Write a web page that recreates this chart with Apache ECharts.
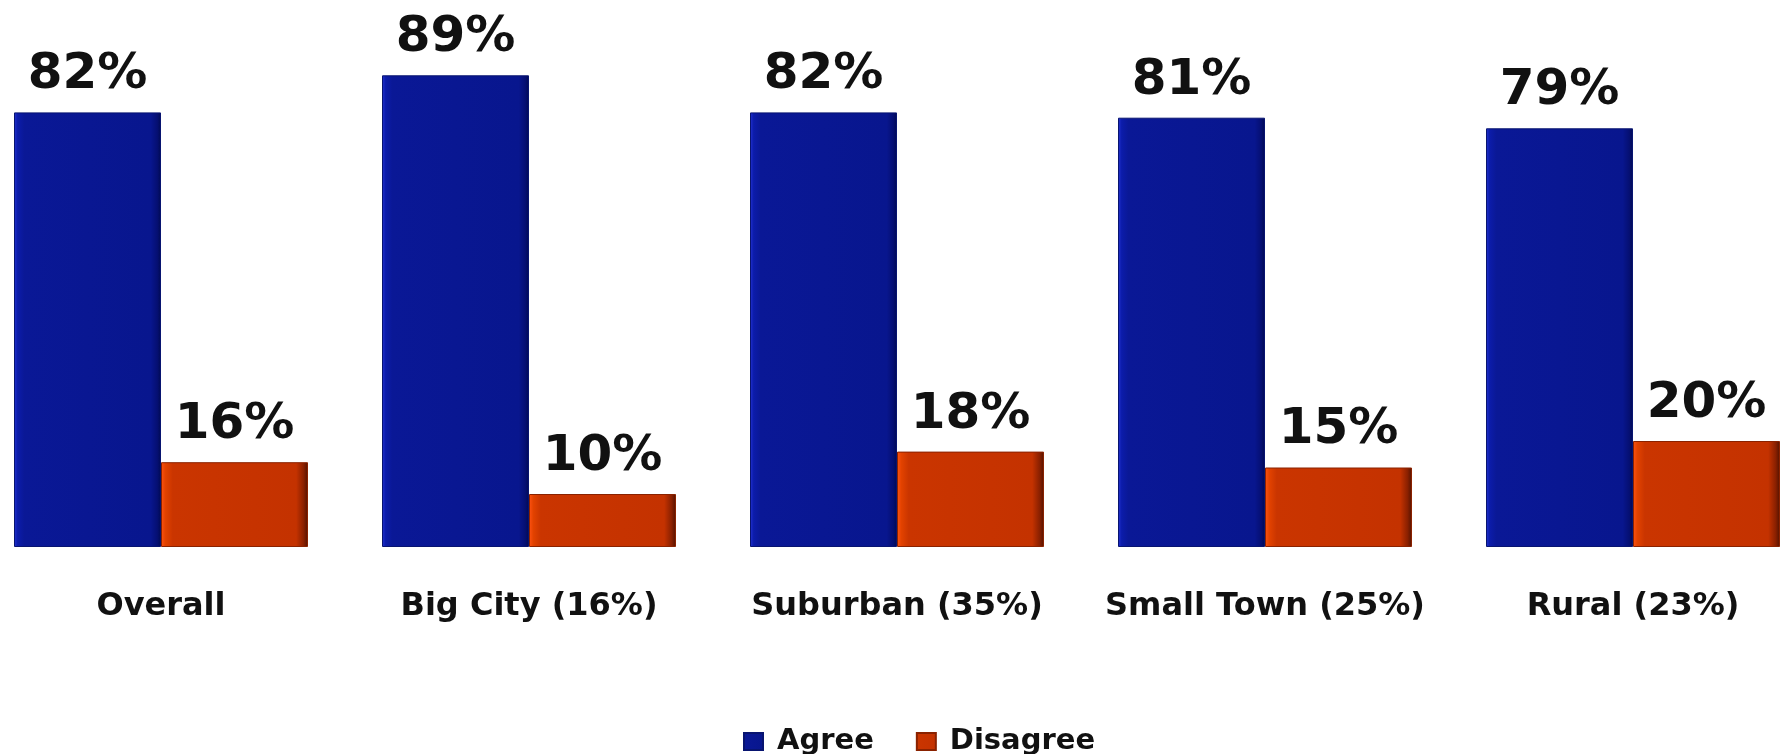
<!DOCTYPE html>
<html>
<head>
<meta charset="utf-8">
<script src="https://cdn.jsdelivr.net/npm/echarts@6/dist/echarts.min.js"></script>
<style>
html,body{margin:0;padding:0;background:#fff;}
#chart{width:1782px;height:754px;}
</style>
</head>
<body>
<div id="chart"></div>
<script>
var categories = ['Overall', 'Big City (16%)', 'Suburban (35%)', 'Small Town (25%)', 'Rural (23%)'];
var agreeValues = [82, 89, 82, 81, 79];
var disagreeValues = [16, 10, 18, 15, 20];
var seriesNames = ['Agree', 'Disagree'];

var FONT = '"DejaVu Sans", Verdana, sans-serif';

function grad(stops) {
  return new echarts.graphic.LinearGradient(0, 0, 1, 0, stops);
}
var blueFill = grad([
  {offset: 0, color: '#2232d2'},
  {offset: 0.025, color: '#0c1caa'},
  {offset: 0.07, color: '#0a1896'},
  {offset: 0.93, color: '#08168e'},
  {offset: 0.975, color: '#050f72'},
  {offset: 1, color: '#000a52'}
]);
var orangeFill = grad([
  {offset: 0, color: '#ff5212'},
  {offset: 0.03, color: '#e24200'},
  {offset: 0.08, color: '#ca3500'},
  {offset: 0.92, color: '#c43200'},
  {offset: 0.97, color: '#8a2000'},
  {offset: 1, color: '#521200'}
]);

var labelCfg = {
  show: true,
  position: 'top',
  distance: 12,
  formatter: '{c}%',
  fontFamily: FONT,
  fontWeight: 'bold',
  fontSize: 50,
  color: '#111'
};

var chart = echarts.init(document.getElementById('chart'), null, {renderer: 'canvas'});
chart.setOption({
  backgroundColor: '#ffffff',
  animation: false,
  grid: {left: -23, right: -35, top: 17, bottom: 207, outerBoundsMode: 'none', containLabel: false},
  legend: {
    data: seriesNames,
    left: 743,
    top: 727,
    padding: 0,
    itemWidth: 19,
    itemHeight: 17,
    itemGap: 42,
    icon: 'rect',
    textStyle: {fontFamily: FONT, fontWeight: 'bold', fontSize: 29, color: '#111', padding: [0, 0, 0, 9]}
  },
  xAxis: {
    type: 'category',
    data: categories,
    axisLine: {show: false},
    axisTick: {show: false},
    axisLabel: {interval: 0, margin: 44, fontFamily: FONT, fontWeight: 'bold', fontSize: 32, color: '#111'}
  },
  yAxis: {
    type: 'value',
    min: 0,
    max: 100,
    show: false,
    splitLine: {show: false}
  },
  series: [
    {
      name: seriesNames[0],
      type: 'bar',
      data: agreeValues,
      barWidth: 147,
      barGap: '0%',
      itemStyle: {color: blueFill, borderColor: '#081470', borderWidth: 1},
      label: labelCfg
    },
    {
      name: seriesNames[1],
      type: 'bar',
      data: disagreeValues,
      barWidth: 147,
      barGap: '0%',
      itemStyle: {color: orangeFill, borderColor: '#8a2200', borderWidth: 1},
      label: labelCfg
    }
  ],
  color: ['#0a1a8a', '#c03000']
});
</script>
</body>
</html>
